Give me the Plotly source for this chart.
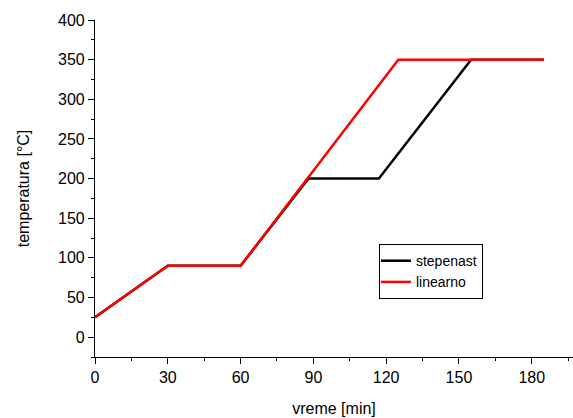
import plotly.graph_objects as go

# Data
x_step = [0, 30, 60, 88, 117, 155, 185]
y_step = [25, 90, 90, 200, 200, 350, 350]
x_lin = [0, 30, 60, 125, 185]
y_lin = [25, 90, 90, 350, 350]
x_ticks = [0, 30, 60, 90, 120, 150, 180]
y_ticks = [0, 50, 100, 150, 200, 250, 300, 350, 400]

FONT = "Liberation Sans, Arial, sans-serif"

fig = go.Figure()
fig.add_trace(go.Scatter(x=x_step, y=y_step, mode="lines", name="stepenast",
                         line=dict(color="black", width=2.5)))
fig.add_trace(go.Scatter(x=x_lin, y=y_lin, mode="lines", name="linearno",
                         line=dict(color="#ff0000", width=2.5)))

axis_common = dict(showline=True, linecolor="black", linewidth=1.2,
                   showgrid=False, zeroline=False, ticks="outside",
                   ticklen=6, tickwidth=1, tickcolor="black",
                   tickfont=dict(family=FONT, size=16, color="black"))

fig.update_layout(
    width=573, height=418,
    margin=dict(l=95, r=0, t=20, b=61),
    paper_bgcolor="white", plot_bgcolor="white",
    font=dict(family=FONT, color="black"),
    xaxis=dict(range=[0, 197], tickvals=x_ticks,
               minor=dict(ticks="outside", ticklen=3, dtick=15, tick0=0, tickcolor="black"),
               title=dict(text="vreme [min]", font=dict(family=FONT, size=16), standoff=17),
               **axis_common),
    yaxis=dict(range=[-25, 400], tickvals=y_ticks,
               minor=dict(ticks="outside", ticklen=3, dtick=25, tick0=0, tickcolor="black"),
               title=dict(text="temperatura [°C]", font=dict(family=FONT, size=16), standoff=24),
               **axis_common),
    legend=dict(x=0.594, y=0.335, xanchor="left", yanchor="top",
                bgcolor="white", bordercolor="black", borderwidth=1,
                font=dict(family=FONT, size=14, color="black"),
                tracegroupgap=0, itemwidth=30, indentation=-4),
    showlegend=True,
)

fig.write_html("out.html")
